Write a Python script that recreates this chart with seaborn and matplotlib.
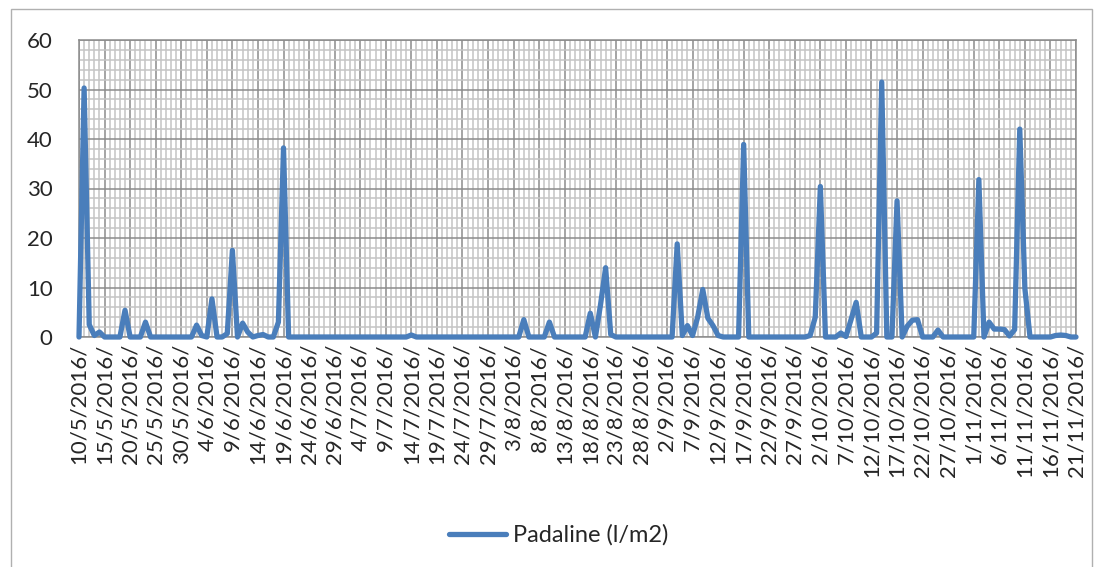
"""
plot.py
Daily rainfall (Padaline, l/m2), 10/5/2016 - 21/11/2016, Excel-style line chart.
"""

import matplotlib
matplotlib.use("Agg")
import matplotlib.pyplot as plt
from matplotlib.patches import Rectangle
from matplotlib.ticker import MultipleLocator
import numpy as np
import pandas as pd
import seaborn as sns

# ---------------------------------------------------------------------------
# Data (one value per day, starting 10/5/2016)
# ---------------------------------------------------------------------------
SERIES_NAME = "Padaline (l/m2)"

RAIN = [
    0, 50.3, 2.5, 0.3, 1.0, 0, 0, 0, 0, 5.4,            # 0-9
    0, 0, 0, 3.0, 0, 0, 0, 0, 0, 0,                     # 10-19
    0, 0, 0, 2.4, 0.3, 0, 7.7, 0, 0, 0.7,               # 20-29
    17.5, 0, 2.8, 1.0, 0, 0.3, 0.5, 0, 0, 3.0,          # 30-39
    38.2, 0, 0, 0, 0, 0, 0, 0, 0, 0,                    # 40-49
    0, 0, 0, 0, 0, 0, 0, 0, 0, 0,                       # 50-59
    0, 0, 0, 0, 0, 0.4, 0, 0, 0, 0,                     # 60-69
    0, 0, 0, 0, 0, 0, 0, 0, 0, 0,                       # 70-79
    0, 0, 0, 0, 0, 0, 0, 3.5, 0, 0,                     # 80-89
    0, 0, 3.0, 0, 0, 0, 0, 0, 0, 0,                     # 90-99
    4.8, 0, 6.5, 14.0, 0.5, 0, 0, 0, 0, 0,              # 100-109
    0, 0, 0, 0, 0, 0, 0, 18.8, 0.3, 2.3,                # 110-119
    0.3, 4.0, 9.6, 3.8, 2.3, 0.3, 0, 0, 0, 0,           # 120-129
    38.9, 0, 0, 0, 0, 0, 0, 0, 0, 0,                    # 130-139
    0, 0, 0, 0.3, 4.0, 30.4, 0, 0, 0, 0.8,              # 140-149
    0.1, 3.5, 7.0, 0, 0, 0, 0.8, 51.5, 0, 0,            # 150-159
    27.5, 0, 2.2, 3.4, 3.5, 0, 0, 0, 1.4, 0,            # 160-169
    0, 0, 0, 0, 0, 0, 31.8, 0, 3.0, 1.6,                # 170-179
    1.6, 1.5, 0.2, 1.5, 42.0, 9.8, 0, 0, 0, 0,          # 180-189
    0, 0.3, 0.4, 0.3, 0, 0,                             # 190-195
]

# tick label every 5th day
TICK_LABELS = [
    "10/5/2016/", "15/5/2016/", "20/5/2016/", "25/5/2016/", "30/5/2016/",
    "4/6/2016/", "9/6/2016/", "14/6/2016/", "19/6/2016/", "24/6/2016/",
    "29/6/2016/", "4/7/2016/", "9/7/2016/", "14/7/2016/", "19/7/2016/",
    "24/7/2016/", "29/7/2016/", "3/8/2016/", "8/8/2016/", "13/8/2016/",
    "18/8/2016/", "23/8/2016/", "28/8/2016/", "2/9/2016/", "7/9/2016/",
    "12/9/2016/", "17/9/2016/", "22/9/2016/", "27/9/2016/", "2/10/2016/",
    "7/10/2016/", "12/10/2016/", "17/10/2016/", "22/10/2016/", "27/10/2016/",
    "1/11/2016/", "6/11/2016/", "11/11/2016/", "16/11/2016/", "21/11/2016/",
]

LINE_COLOR = "#4a7ebb"
MAJOR_GRID = "#8c8c8c"
MINOR_GRID = "#c4c4c4"


def main():
    sns.set_style("white")
    plt.rcParams["font.family"] = ["Lato", "DejaVu Sans"]

    df = pd.DataFrame({"day": np.arange(len(RAIN)), "rain": RAIN})

    fig = plt.figure(figsize=(10.94, 5.67), dpi=100)
    ax = fig.add_axes([79 / 1094, 1 - 337 / 567, (1076 - 79) / 1094, (337 - 40) / 567])

    sns.lineplot(data=df, x="day", y="rain", ax=ax, color=LINE_COLOR,
                 linewidth=3.8, label=SERIES_NAME, legend=False)
    for ln in ax.lines:
        ln.set_clip_on(False)
        ln.set_solid_joinstyle("round")
        ln.set_zorder(5)

    ax.set_xlim(0, len(RAIN) - 1)
    ax.set_ylim(0, 60)
    ax.set_xticks(np.arange(0, len(RAIN), 5))
    ax.set_xticklabels(TICK_LABELS, rotation=90, fontsize=16)
    ax.xaxis.set_minor_locator(MultipleLocator(1))
    ax.yaxis.set_major_locator(MultipleLocator(10))
    ax.yaxis.set_minor_locator(MultipleLocator(2))
    ax.tick_params(axis="y", labelsize=16, length=0, pad=19)
    ax.tick_params(axis="x", length=0, pad=5)
    ax.tick_params(which="minor", length=0)

    ax.grid(which="minor", color=MINOR_GRID, linewidth=1.1)
    ax.grid(which="major", color=MAJOR_GRID, linewidth=1.1)
    ax.set_axisbelow(True)
    for sp in ax.spines.values():
        sp.set_color(MAJOR_GRID)
        sp.set_linewidth(1.1)

    ax.set_xlabel("")
    ax.set_ylabel("")

    handles, labels = ax.get_legend_handles_labels()
    fig.legend(handles, labels, loc="center", bbox_to_anchor=(0.511, 0.056),
               frameon=False, fontsize=17, handlelength=2.4, handletextpad=0.3)

    # chart area border
    fig.patches.append(Rectangle((11 / 1094, -0.01), (1092 - 11) / 1094, 1 - 9 / 567 + 0.01,
                                 transform=fig.transFigure, fill=False,
                                 edgecolor="#b0b0b0", linewidth=1.0))

    fig.savefig("out.png", dpi=100)
    plt.close(fig)


if __name__ == "__main__":
    main()
